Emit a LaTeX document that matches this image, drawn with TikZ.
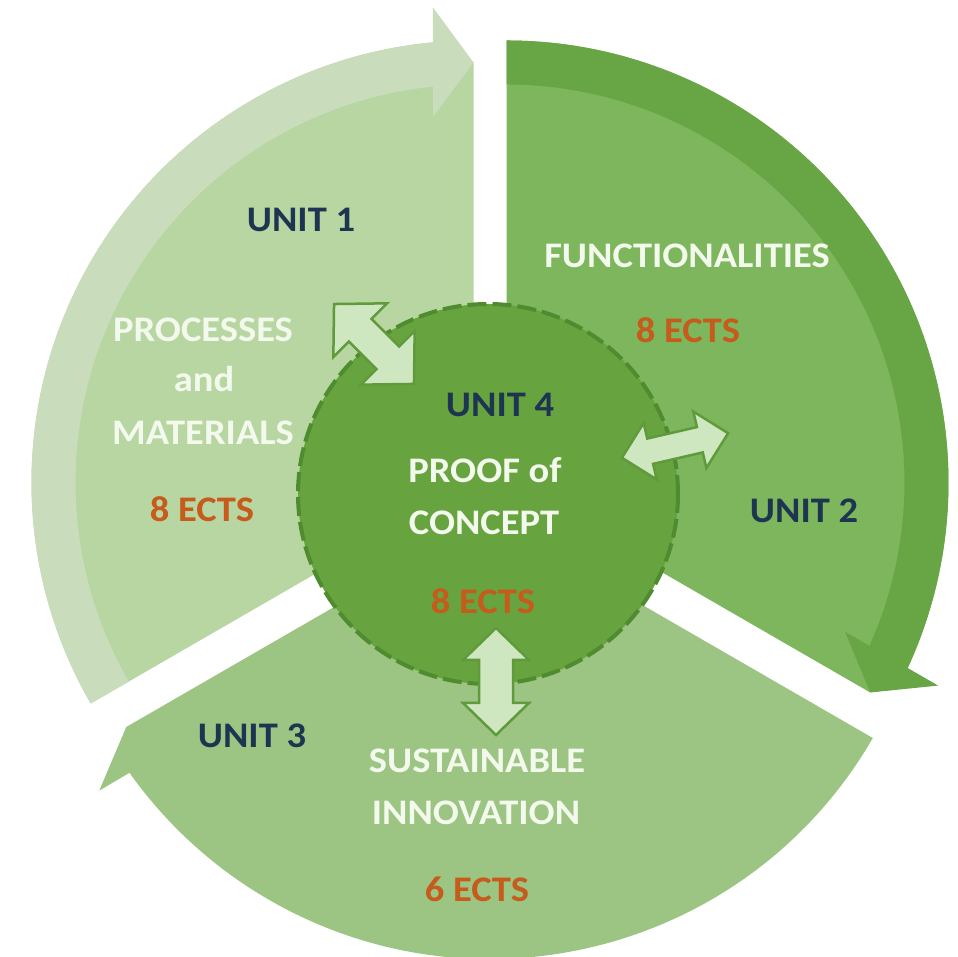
\documentclass[tikz,border=0pt]{standalone}
\usepackage{fontspec}
\setmainfont{Carlito}[BoldFeatures={FakeStretch=1.07}]
\definecolor{sOneFill}{HTML}{B7D6A2}
\definecolor{sOneRib}{HTML}{C9DDBC}
\definecolor{sTwoFill}{HTML}{7DB65C}
\definecolor{sTwoRib}{HTML}{68A544}
\definecolor{sThreeFill}{HTML}{9CC482}
\definecolor{ctrFill}{HTML}{67A33F}
\definecolor{ctrDash}{HTML}{4F8B2F}
\definecolor{arrFill}{HTML}{CFE7C0}
\definecolor{arrLine}{HTML}{5F9B3B}
\definecolor{navy}{HTML}{1D3550}
\definecolor{ectsOrange}{HTML}{C65B1C}
\definecolor{paleText}{HTML}{F3F9EC}
\newcommand\dblarr[7]{%
\begin{scope}[shift={(#1,#2)},rotate=#3]
\filldraw[dblarrow] (-#4,0) -- ({-#4+#5},#6) -- ({-#4+#5},#7) -- ({#4-#5},#7) -- ({#4-#5},#6) -- (#4,0) -- ({#4-#5},-#6) -- ({#4-#5},-#7) -- ({-#4+#5},-#7) -- ({-#4+#5},-#6) -- cycle;
\end{scope}}
\begin{document}
\begin{tikzpicture}[x=1pt,y=1pt,
  lbl/.style={font=\fontsize{36}{43}\selectfont\bfseries, anchor=base, inner sep=0pt},
  unitlbl/.style={lbl, text=navy},
  titlelbl/.style={lbl, text=paleText},
  ectslbl/.style={lbl, text=ectsOrange},
  dblarrow/.style={fill=arrFill, draw=arrLine, line width=2.5pt, line join=miter}]
\useasboundingbox (0,0) rectangle (957,957);
\fill[white] (0,0) rectangle (957,957);
% ---- Sector 1 (top left)
\begin{scope}[shift={(473.5,474.5)}]
  \fill[sOneFill] (0,0) -- (210:442) arc[start angle=210, end angle=95.2, radius=442] -- (90:420) -- cycle;
  \fill[sOneRib] (210:442) arc[start angle=210, end angle=95.2, radius=442] -- (95.2:398) arc[start angle=95.2, end angle=210, radius=398] -- cycle;
  \fill[sOneRib] (94.9:477) -- (90:420) -- (96.3:368) -- cycle;
\end{scope}
% ---- Sector 2 (top right)
\begin{scope}[shift={(506.5,474.5)}]
  \fill[sTwoFill] (0,0) -- (90:442) arc[start angle=90, end angle=-24.8, radius=442] -- (-30:420) -- cycle;
  \fill[sTwoRib] (90:442) arc[start angle=90, end angle=-24.8, radius=442] -- (-24.8:398) arc[start angle=-24.8, end angle=90, radius=398] -- cycle;
  \fill[sTwoRib] (-25.2:477) -- (-30:420) -- (-23.8:370) -- cycle;
\end{scope}
% ---- Sector 3 (bottom)
\begin{scope}[shift={(490,440)}]
  \fill[sThreeFill] (0,0) -- (-30:442) arc[start angle=-30, end angle=-145.2, radius=442] -- (-150:420) -- cycle;
  \fill[sThreeFill] (-145:477) -- (-150:420) -- (-143.7:370) -- cycle;
\end{scope}
% ---- Centre circle
\node[circle, minimum size=380pt, inner sep=0pt, fill=ctrFill, draw=ctrDash, line width=4pt, dash pattern=on 19pt off 6pt] (core) at (488,463) {};
% ---- Double arrows
\dblarr{374}{613}{-45}{56.5}{37}{38}{16}
\dblarr{675}{511.5}{13}{54.5}{29}{29}{13}
\dblarr{496}{275.5}{90}{53.5}{32}{33}{17}
% ---- Texts
\node[unitlbl] (u1) at (301,725) {UNIT 1};
\node[titlelbl] (t1a) at (203,615) {PROCESSES};
\node[titlelbl] (t1b) at (204,565) {and};
\node[titlelbl] (t1c) at (203,512) {MATERIALS};
\node[ectslbl] (e1) at (202,435) {8 ECTS};
\node[titlelbl] (t2) at (687,689) {FUNCTIONALITIES};
\node[ectslbl] (e2) at (688,614) {8 ECTS};
\node[unitlbl] (u2) at (804,434) {UNIT 2};
\node[unitlbl] (u4) at (500,540) {UNIT 4};
\node[titlelbl] (t4a) at (485,474) {PROOF of};
\node[titlelbl] (t4b) at (484,422) {CONCEPT};
\node[ectslbl] (e4) at (483,343) {8 ECTS};
\node[unitlbl] (u3) at (252,209) {UNIT 3};
\node[titlelbl] (t3a) at (477,184) {SUSTAINABLE};
\node[titlelbl] (t3b) at (476,132) {INNOVATION};
\node[ectslbl] (e3) at (477,55) {6 ECTS};
\end{tikzpicture}
\end{document}
